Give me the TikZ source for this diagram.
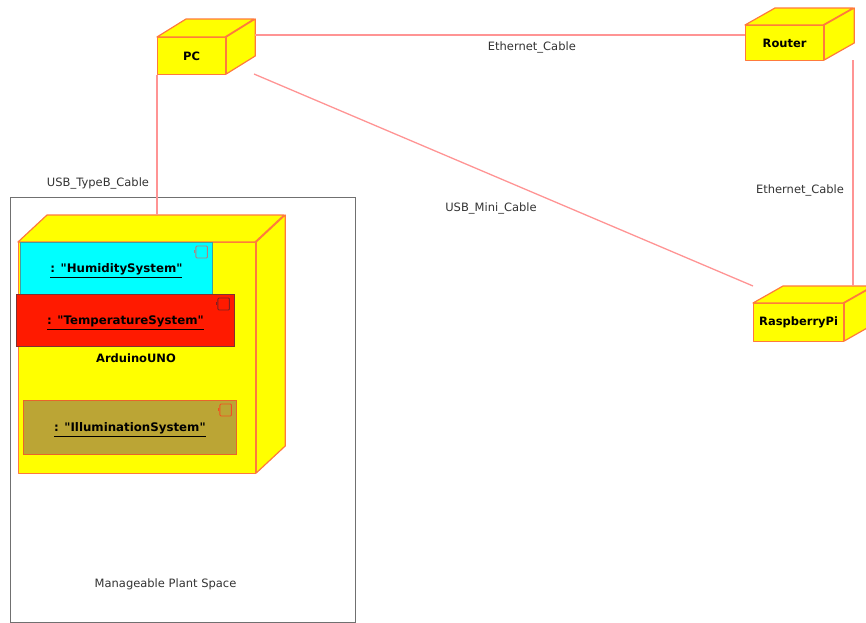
\documentclass[tikz,border=0pt]{standalone}
\usepackage{fontspec}
\setmainfont[Ligatures=TeXOff]{DejaVu Sans}
\definecolor{wire}{HTML}{FF9494}
\definecolor{edge}{HTML}{FF7A3C}
\definecolor{nodeyellow}{HTML}{FFFF00}
\definecolor{frameg}{HTML}{707070}
\definecolor{compcyan}{HTML}{00FFFF}
\definecolor{compred}{HTML}{FF1A00}
\definecolor{compolive}{HTML}{BBA535}
\definecolor{edgecyan}{HTML}{40A0A0}
\definecolor{edgered}{HTML}{803030}
\definecolor{edgeolive}{HTML}{E8642A}
\definecolor{glyphcyan}{HTML}{B08080}
\definecolor{glyphred}{HTML}{802020}
\definecolor{glyphol}{HTML}{F05020}
\tikzset{
  wirel/.style={draw=wire,line width=1.3pt},
  label/.style={font=\fontsize{11.5}{13}\selectfont,text=black!80,inner sep=0pt},
  face/.style={draw=edge,fill=nodeyellow,line width=1.2pt,line join=round},
  front/.style={face,anchor=north west,inner sep=0pt,font=\fontsize{11.5}{13}\selectfont\bfseries},
  comp/.style={anchor=north west,inner sep=0pt,line width=.9pt},
  glyph/.style={line width=.9pt,rounded corners=1pt},
  plain/.style={inner sep=0pt,font=\fontsize{11.5}{13}\selectfont\bfseries},
  comptext/.style={inner sep=0pt,font=\fontsize{11.8}{13}\selectfont\bfseries}
}
% name, x1, y1, width, height, dx, dy, text
\newcommand{\cuboid}[8]{%
  \node[front,minimum width=#4pt,minimum height=#5pt] (#1) at (#2,#3) {#8};
  \draw[face] (#1.north west) -- ++(#6,-#7) -- ++(#4,0) -- ++(-#6,#7) -- cycle;
  \draw[face] (#1.north east) -- ++(#6,-#7) -- ++(0,#5) -- ++(-#6,#7) -- cycle;
}
% name, x1, y1, width, height, fill, stroke, text, glyph colour
\newcommand{\component}[9]{%
  \node[comp,draw=#7,fill=#6,minimum width=#4pt,minimum height=#5pt] (#1) at (#2,#3) {};
  \draw[glyph,draw=#9] ([xshift=-17pt,yshift=-4pt]#1.north east) rectangle ([xshift=-5.5pt,yshift=-16pt]#1.north east);
  \draw[glyph,draw=#9] ([xshift=-18.5pt,yshift=-8pt]#1.north east) -- ([xshift=-18.5pt,yshift=-11pt]#1.north east);
  \node[comptext,anchor=base] (#1text) at ([yshift=-4.5pt]#1.center) {\underline{#8}};
}
\begin{document}
\begin{tikzpicture}[x=1pt,y=-1pt]
\useasboundingbox (0,0) rectangle (866,622);
\clip (0,0) rectangle (866,622);
\node[draw=frameg,line width=.9pt,anchor=north west,inner sep=0pt,minimum width=345pt,minimum height=425pt] (plant) at (10,197) {};
\cuboid{arduino}{18}{242}{237}{231}{29}{27}{}
\cuboid{pc}{157}{37}{68}{37}{29}{18}{PC}
\cuboid{router}{745}{25}{78}{35}{30}{17}{Router}
\cuboid{rpi}{753}{303}{90}{38}{30}{17}{RaspberryPi}
\component{hum}{20}{242}{192}{52}{compcyan}{edgecyan}{: "HumiditySystem"}{glyphcyan}
\component{temp}{16}{294}{218}{52}{compred}{edgered}{: "TemperatureSystem"}{glyphred}
\component{ill}{23}{400}{213}{54}{compolive}{edgeolive}{: "IlluminationSystem"}{glyphol}
\node[plain] (arduinolabel) at (136,358) {ArduinoUNO};
\node[label] (plantlabel) at (165.5,584) {Manageable Plant Space};
\coordinate (ardtop) at (157,215);
\coordinate (pcr) at (255,35);
\coordinate (pcd) at (254,74);
\coordinate (routerl) at (745,35);
\coordinate (routerd) at (853,60);
\coordinate (rpit) at (853,286);
\coordinate (rpil) at (753,286);
\draw[wirel] (pcr) -- (routerl) node[label,pos=.565,yshift=-12pt] (eth1) {Ethernet\_Cable};
\draw[wirel] (pc.south west) -- (ardtop);
\draw[wirel] (pcd) -- (rpil);
\draw[wirel] (routerd) -- (rpit);
\node[label] (usbb) at (98,183.5) {USB\_TypeB\_Cable};
\node[label] (usbm) at (491,208.5) {USB\_Mini\_Cable};
\node[label] (eth2) at (800,190) {Ethernet\_Cable};
\end{tikzpicture}
\end{document}
